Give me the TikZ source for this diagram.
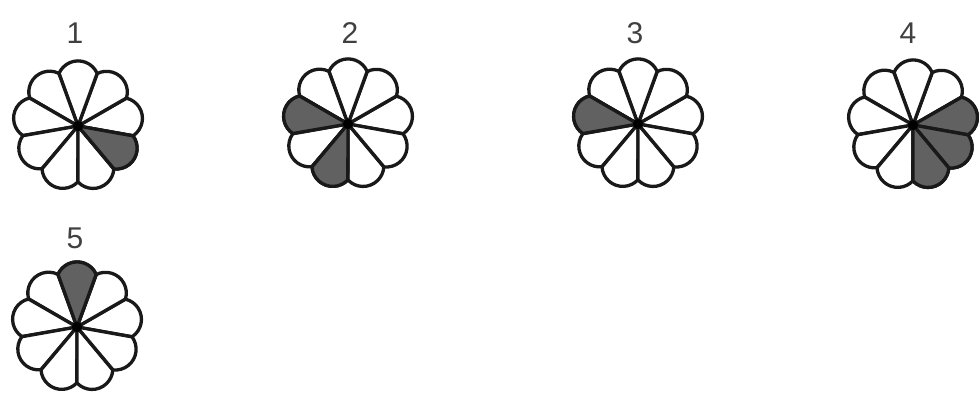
\documentclass[tikz,border=0pt]{standalone}
\usepackage{fontspec}
\setmainfont{Liberation Sans}
\tikzset{
  petalbox/.style={draw=black!90, line width=3.3pt, line join=round, fill=white},
  shaded/.style={fill=black!62},
  lbl/.style={font=\fontsize{30}{32}\selectfont, inner sep=0pt, text=black!75}
}
\newcommand\mypetal[3]{%
  \filldraw[petalbox,#3] (#1) -- ++({#2-20}:56) arc[start angle={#2-66.4}, end angle={#2+66.4}, radius=20.8] -- cycle;
}
\newcommand\myflower[3]{%
  \coordinate (#1) at #2;
  \foreach \a in {10,50,...,330}{\mypetal{#1}{\a}{}}
  \foreach \a in {#3}{\mypetal{#1}{\a}{shaded}}
  \fill (#1) circle (5);
}
\begin{document}
\begin{tikzpicture}[x=1pt,y=1pt]
  \useasboundingbox (0,0) rectangle (979,395);
  \myflower{f1}{(78,269)}{330}
  \myflower{f2}{(348,271)}{170,250}
  \myflower{f3}{(638,271)}{170}
  \myflower{f4}{(913,270)}{10,330,290}
  \myflower{f5}{(77,68)}{90}
  \node[lbl] (l1) at (75,362) {1};
  \node[lbl] (l2) at (350,362) {2};
  \node[lbl] (l3) at (635,362) {3};
  \node[lbl] (l4) at (908,362) {4};
  \node[lbl] (l5) at (75,157) {5};
\end{tikzpicture}
\end{document}
